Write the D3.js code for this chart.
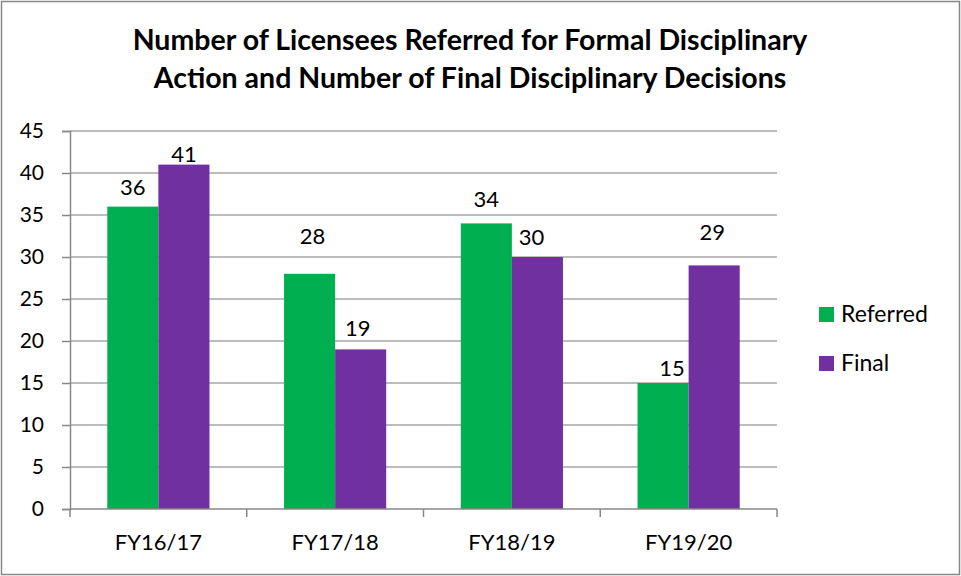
<!DOCTYPE html>
<html>
<head>
<meta charset="utf-8">
<script src="https://cdn.jsdelivr.net/npm/d3@7"></script>
<style>
  body { margin: 0; background: #fff; }
  text { font-family: Lato, "Open Sans", sans-serif; fill: #000; }
</style>
</head>
<body>
<div id="chart"></div>
<script>
const categories = ['FY16/17', 'FY17/18', 'FY18/19', 'FY19/20'];
const seriesNames = ['Referred', 'Final'];
const referred = [36, 28, 34, 15];
const finalDecisions = [41, 19, 30, 29];
const yTicks = [0, 5, 10, 15, 20, 25, 30, 35, 40, 45];
const titleLines = [
    'Number of Licensees Referred for Formal Disciplinary',
    'Action and Number of Final Disciplinary Decisions',
];

const COLORS = { Referred: '#00B050', Final: '#7030A0' };
const WIDTH = 961;
const HEIGHT = 576;
const PLOT = { left: 70, right: 777, top: 131, bottom: 509 };
// data labels were dragged by hand in the original, so nudge them: [dx, gap above bar]
const LABEL_NUDGE = {
    Referred: [[0, 12], [3, 30], [0, 16], [9, 7]],
    Final: [[0, 3], [-3, 13], [-6, 12], [-2, 25]],
};

const rows = categories.map((c, i) => ({
    category: c,
    values: [
        { key: 'Referred', value: referred[i], i },
        { key: 'Final', value: finalDecisions[i], i },
    ],
}));

const svg = d3
    .select('#chart')
    .append('svg')
    .attr('width', WIDTH)
    .attr('height', HEIGHT);

// outer chart border
svg.append('rect')
    .attr('x', 1.5)
    .attr('y', 1.5)
    .attr('width', WIDTH - 3)
    .attr('height', HEIGHT - 3)
    .attr('fill', '#fff')
    .attr('stroke', '#888')
    .attr('stroke-width', 1.5);

svg.append('text')
    .attr('text-anchor', 'middle')
    .attr('font-weight', 'bold')
    .attr('font-size', 28.5)
    .selectAll('tspan')
    .data(titleLines)
    .join('tspan')
    .attr('x', 470)
    .attr('y', (d, i) => 50 + i * 38)
    .text((d) => d);

const x = d3.scaleBand().domain(categories).range([PLOT.left, PLOT.right]).padding(0);
const xInner = d3
    .scaleBand()
    .domain(seriesNames)
    .range([0, x.bandwidth()])
    .paddingInner(0)
    .paddingOuter(0.73);
const y = d3.scaleLinear().domain([0, 45]).range([PLOT.bottom, PLOT.top]);

// gridlines
svg.append('g')
    .selectAll('line')
    .data(yTicks.filter((d) => d > 0))
    .join('line')
    .attr('x1', PLOT.left)
    .attr('x2', PLOT.right)
    .attr('y1', (d) => y(d))
    .attr('y2', (d) => y(d))
    .attr('stroke', '#A6A6A6')
    .attr('stroke-width', 1.5);

// y axis
const yAxis = svg
    .append('g')
    .attr('transform', `translate(${PLOT.left},0)`)
    .call(d3.axisLeft(y).tickValues(yTicks).tickSize(8).tickPadding(18));
yAxis.select('.domain').attr('stroke', '#888').attr('stroke-width', 1.5);
yAxis.selectAll('.tick line').attr('stroke', '#888').attr('stroke-width', 1.5);
yAxis.selectAll('.tick text').attr('font-size', 21).attr('font-family', 'Lato, sans-serif');

// bars
const group = svg
    .append('g')
    .selectAll('g')
    .data(rows)
    .join('g')
    .attr('transform', (d) => `translate(${x(d.category)},0)`);

group.selectAll('rect')
    .data((d) => d.values)
    .join('rect')
    .attr('x', (d) => xInner(d.key))
    .attr('y', (d) => y(d.value))
    .attr('width', xInner.bandwidth())
    .attr('height', (d) => y(0) - y(d.value))
    .attr('fill', (d) => COLORS[d.key]);

group.selectAll('text')
    .data((d) => d.values)
    .join('text')
    .attr('x', (d) => xInner(d.key) + xInner.bandwidth() / 2 + LABEL_NUDGE[d.key][d.i][0])
    .attr('y', (d) => y(d.value) - LABEL_NUDGE[d.key][d.i][1])
    .attr('text-anchor', 'middle')
    .attr('font-size', 22)
    .text((d) => d.value);

// x axis
const xAxis = svg
    .append('g')
    .attr('transform', `translate(0,${PLOT.bottom})`)
    .call(d3.axisBottom(x).tickSize(0));
xAxis.select('.domain').remove();
xAxis.selectAll('.tick text')
    .attr('y', 41)
    .attr('dy', 0)
    .attr('font-size', 22)
    .attr('font-family', 'Lato, sans-serif');
svg.append('line')
    .attr('x1', PLOT.left)
    .attr('x2', PLOT.right)
    .attr('y1', PLOT.bottom)
    .attr('y2', PLOT.bottom)
    .attr('stroke', '#888')
    .attr('stroke-width', 1.5);
svg.append('g')
    .selectAll('line')
    .data(d3.range(categories.length + 1))
    .join('line')
    .attr('x1', (i) => PLOT.left + i * x.step())
    .attr('x2', (i) => PLOT.left + i * x.step())
    .attr('y1', PLOT.bottom)
    .attr('y2', PLOT.bottom + 8)
    .attr('stroke', '#888')
    .attr('stroke-width', 1.5);

// legend
const legend = svg
    .append('g')
    .selectAll('g')
    .data(seriesNames)
    .join('g')
    .attr('transform', (d, i) => `translate(819,${307 + i * 49})`);
legend.append('rect')
    .attr('width', 15)
    .attr('height', 15)
    .attr('fill', (d) => COLORS[d]);
legend.append('text')
    .attr('x', 22)
    .attr('y', 15)
    .attr('font-size', 23)
    .text((d) => d);
</script>
</body>
</html>
